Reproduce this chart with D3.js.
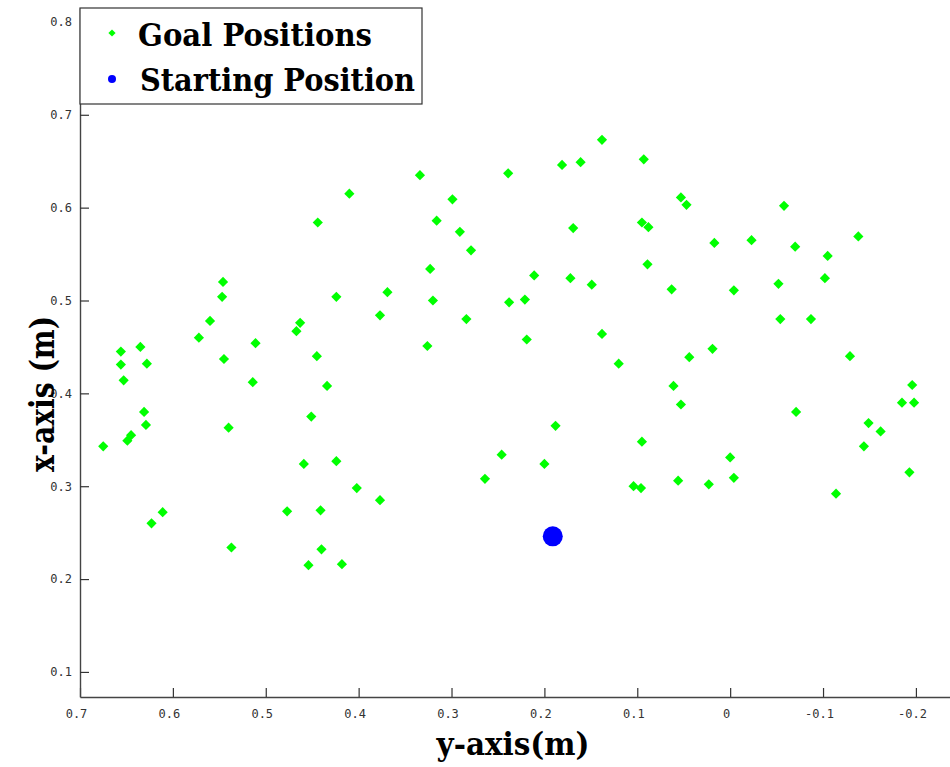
<!DOCTYPE html>
<html>
<head>
<meta charset="utf-8">
<script src="https://cdn.jsdelivr.net/npm/d3@7"></script>
<style>
  html, body { margin: 0; padding: 0; background: #fff; }
  svg { display: block; }
</style>
</head>
<body>
<svg id="chart" width="950" height="767"></svg>
<script>
// Goal positions: horizontal value (robot y, metres) and vertical value (robot x, metres)
const goalY = [
  0.675, 0.656, 0.656, 0.653, 0.635, 0.628, 0.631, 0.629, 0.645, 0.649,
  0.623, 0.611, 0.572, 0.560, 0.546, 0.547, 0.545, 0.540, 0.537, 0.514,
  0.511, 0.477, 0.467, 0.463, 0.459, 0.454, 0.451, 0.444, 0.445, 0.441,
  0.440, 0.434, 0.424, 0.424, 0.418, 0.410, 0.402, 0.377, 0.377, 0.369,
  0.334, 0.326, 0.323, 0.320, 0.316, 0.299, 0.291, 0.284, 0.279, 0.264,
  0.246, 0.239, 0.238, 0.221, 0.219, 0.211, 0.200, 0.188, 0.181, 0.172,
  0.169, 0.161, 0.149, 0.138, 0.138, 0.120, 0.104, 0.096, 0.095, 0.095,
  0.093, 0.089, 0.088, 0.063, 0.061, 0.056, 0.053, 0.053, 0.047, 0.044,
  0.023, 0.019, 0.017, 0.000, -0.004, -0.004, -0.023, -0.052, -0.054, -0.058,
  -0.070, -0.071, -0.087, -0.102, -0.105, -0.114, -0.129, -0.138, -0.144, -0.149,
  -0.162, -0.185, -0.193, -0.196, -0.198
];
const goalX = [
  0.343, 0.445, 0.431, 0.414, 0.450, 0.432, 0.380, 0.366, 0.355, 0.349,
  0.260, 0.272, 0.460, 0.478, 0.520, 0.504, 0.437, 0.363, 0.234, 0.412,
  0.454, 0.273, 0.467, 0.476, 0.324, 0.215, 0.375, 0.584, 0.440, 0.274,
  0.232, 0.408, 0.327, 0.504, 0.216, 0.615, 0.298, 0.484, 0.285, 0.509,
  0.635, 0.451, 0.534, 0.500, 0.586, 0.609, 0.574, 0.480, 0.554, 0.308,
  0.334, 0.637, 0.498, 0.501, 0.458, 0.527, 0.324, 0.365, 0.646, 0.524,
  0.578, 0.649, 0.517, 0.673, 0.464, 0.432, 0.300, 0.298, 0.348, 0.584,
  0.652, 0.539, 0.579, 0.512, 0.408, 0.306, 0.611, 0.388, 0.603, 0.439,
  0.302, 0.448, 0.562, 0.331, 0.309, 0.511, 0.565, 0.518, 0.480, 0.602,
  0.558, 0.380, 0.480, 0.524, 0.548, 0.292, 0.440, 0.569, 0.343, 0.368,
  0.359, 0.390, 0.315, 0.409, 0.390
];
// Starting position of the arm
const startY = [0.191];
const startX = [0.246];

const xTickValues = [0.7, 0.6, 0.5, 0.4, 0.3, 0.2, 0.1, 0, -0.1, -0.2];
const yTickValues = [0.1, 0.2, 0.3, 0.4, 0.5, 0.6, 0.7, 0.8];
const legendLabels = ["Goal Positions", "Starting Position"];
const axisTitles = { x: "y-axis(m)", y: "x-axis (m)" };

const svg = d3.select("#chart");
const plotLeft = 80, plotRight = 950, plotTop = 8, plotBottom = 697;

// Horizontal axis runs from +0.7 on the left to negative values on the right
const x = d3.scaleLinear().domain([0.7, -0.2367]).range([plotLeft, plotRight]);
const y = d3.scaleLinear().domain([0.073, 0.815]).range([plotBottom, plotTop]);

const fmt = d => (d === 0 ? "0" : d3.format(".1f")(d).replace("−", "-"));

// Bottom axis
const xAxis = d3.axisBottom(x).tickValues(xTickValues).tickSizeInner(-9).tickSizeOuter(0)
  .tickPadding(12).tickFormat(fmt);
const gx = svg.append("g").attr("transform", `translate(0,${plotBottom})`).call(xAxis);
gx.select(".domain").attr("stroke", "#444").attr("stroke-width", 1.4);
gx.selectAll(".tick line").attr("stroke", "#333").attr("stroke-width", 1.2);
gx.selectAll(".tick text").attr("font-family", "'DejaVu Sans Mono', monospace")
  .attr("font-size", 12).attr("fill", "#333").attr("dx", -4);

// Left axis
const yAxis = d3.axisLeft(y).tickValues(yTickValues).tickSizeInner(-9).tickSizeOuter(0)
  .tickPadding(8).tickFormat(fmt);
const gy = svg.append("g").attr("transform", `translate(${plotLeft},0)`).call(yAxis);
gy.select(".domain").attr("stroke", "#444").attr("stroke-width", 1.4);
gy.selectAll(".tick line").attr("stroke", "#333").attr("stroke-width", 1.2);
gy.selectAll(".tick text").attr("font-family", "'DejaVu Sans Mono', monospace")
  .attr("font-size", 12).attr("fill", "#333");

// Diamond marker: a square turned 45 degrees
const diamond = size => d3.symbol().type(d3.symbolSquare).size(size)();

const goals = goalY.map((v, i) => ({ h: v, v: goalX[i] }));
svg.append("g").selectAll("path").data(goals).join("path")
  .attr("d", diamond(52))
  .attr("transform", d => `translate(${x(d.h)},${y(d.v)}) rotate(45)`)
  .attr("fill", "#00ff00");

svg.append("g").selectAll("circle").data(startY.map((v, i) => ({ h: v, v: startX[i] })))
  .join("circle")
  .attr("cx", d => x(d.h)).attr("cy", d => y(d.v)).attr("r", 10)
  .attr("fill", "#0000ff");

// Legend
const lg = svg.append("g");
lg.append("rect").attr("x", plotLeft).attr("y", plotTop).attr("width", 342).attr("height", 96)
  .attr("fill", "#fff").attr("stroke", "#333").attr("stroke-width", 1.2);
lg.append("path").attr("d", diamond(26)).attr("transform", "translate(112,33) rotate(45)")
  .attr("fill", "#00ff00");
lg.append("circle").attr("cx", 112).attr("cy", 79).attr("r", 4).attr("fill", "#0000ff");
const legendText = [[138, 46, 234], [140, 91, 275]];
lg.selectAll("text").data(legendLabels).join("text")
  .attr("x", (d, i) => legendText[i][0]).attr("y", (d, i) => legendText[i][1])
  .attr("textLength", (d, i) => legendText[i][2]).attr("lengthAdjust", "spacingAndGlyphs")
  .attr("font-family", "'DejaVu Serif', serif").attr("font-weight", "bold")
  .attr("font-size", 31).attr("fill", "#000")
  .text(d => d);

// Axis titles
svg.append("text").attr("x", 513).attr("y", 755).attr("text-anchor", "middle")
  .attr("textLength", 153).attr("lengthAdjust", "spacingAndGlyphs")
  .attr("font-family", "'DejaVu Serif Condensed', 'DejaVu Serif', serif").attr("font-weight", "bold")
  .attr("font-size", 31).attr("fill", "#000").text(axisTitles.x);

svg.append("text").attr("transform", "translate(54,394) rotate(-90)").attr("text-anchor", "middle")
  .attr("textLength", 156).attr("lengthAdjust", "spacingAndGlyphs")
  .attr("font-family", "'DejaVu Serif Condensed', 'DejaVu Serif', serif").attr("font-weight", "bold")
  .attr("font-size", 34).attr("fill", "#000").text(axisTitles.y);
</script>
</body>
</html>
